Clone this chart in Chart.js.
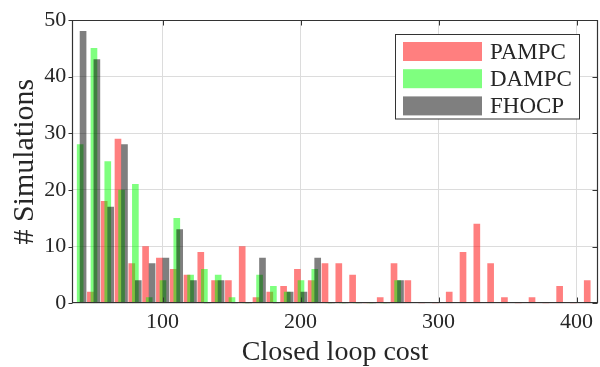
<!DOCTYPE html>
<html>
<head>
<meta charset="utf-8">
<script src="https://cdn.jsdelivr.net/npm/chart.js@4/dist/chart.umd.min.js"></script>
<style>
  html, body { margin: 0; padding: 0; background: #ffffff; }
  #wrap { width: 600px; height: 367px; }
</style>
</head>
<body>
<div id="wrap"><canvas id="c" width="600" height="367"></canvas></div>
<script>
// ---- Data ----
const seriesNames = ["PAMPC", "DAMPC", "FHOCP"];

const pampcBins = [47.7,57.7,67.7,77.7,87.7,97.7,107.7,117.7,127.7,137.7,147.7,157.7,167.7,177.7,187.7,197.7,207.7,217.7,227.7,237.7,247.7,257.7,267.7,277.7,287.7,297.7,307.7,317.7,327.7,337.7,347.7,357.7,367.7,377.7,387.7,397.7,407.7];
const pampcCounts = [2,18,29,7,10,8,6,5,9,4,4,10,1,2,3,6,4,7,7,5,0,1,7,4,0,0,2,9,14,7,1,0,1,0,3,0,4];

const dampcBins = [40.3,50.3,60.3,70.3,80.3,90.3,100.3,110.3,120.3,130.3,140.3,150.3,160.3,170.3,180.3,190.3,200.3,210.3,220.3,230.3,240.3,250.3,260.3,270.3];
const dampcCounts = [28,45,25,20,21,1,4,15,5,6,5,1,0,5,3,2,4,6,0,0,0,0,0,4];

const fhocpBins = [42.4,52.4,62.4,72.4,82.4,92.4,102.4,112.4,122.4,132.4,142.4,152.4,162.4,172.4,182.4,192.4,202.4,212.4,222.4,232.4,242.4,252.4,262.4,272.4];
const fhocpCounts = [48,43,17,28,4,7,8,13,4,0,4,0,0,8,0,2,2,8,0,0,0,0,0,4];

const xTickValues = [100, 200, 300, 400];
const yTickValues = [0, 10, 20, 30, 40, 50];
const xLimits = [34.6, 415.5];
const yLimits = [0, 50];

const xLabel = "Closed loop cost";
const yLabel = "# Simulations";

// ---- Styles ----
const colors = ["rgba(255,0,0,0.5)", "rgba(0,255,0,0.5)", "rgba(0,0,0,0.5)"];
const serif = "'Liberation Serif', 'Times New Roman', serif";
const axisColor = "#333333";

function pts(xs, ys) { return xs.map((x, i) => ({ x: x, y: ys[i] })); }

const boxPlugin = {
  id: 'matlabBox',
  afterDatasetsDraw(chart) {
    const { ctx, chartArea: a, scales } = chart;
    const L = Math.round(a.left) + 0.5, R = Math.round(a.right) - 0.5;
    const T = Math.round(a.top) + 0.5, B = Math.round(a.bottom) - 0.5;
    ctx.save();
    ctx.strokeStyle = axisColor;
    ctx.lineWidth = 1.2;
    ctx.beginPath();
    ctx.rect(L, T, R - L, B - T);
    ctx.stroke();
    ctx.lineWidth = 1;
    const tl = 5;
    ctx.beginPath();
    xTickValues.forEach(v => {
      const px = Math.round(scales.x.getPixelForValue(v)) + 0.5;
      ctx.moveTo(px, B); ctx.lineTo(px, B - tl);
      ctx.moveTo(px, T); ctx.lineTo(px, T + tl);
    });
    yTickValues.forEach(v => {
      const py = Math.round(scales.y.getPixelForValue(v)) + 0.5;
      ctx.moveTo(L, py); ctx.lineTo(L - 4, py);
      ctx.moveTo(R, py); ctx.lineTo(R - tl, py);
    });
    ctx.stroke();
    ctx.restore();
  },
  afterDraw(chart) {
    const { ctx } = chart;
    // Legend box (inside the axes, top right)
    const bx = 395.5, by = 34.5, bw = 184, bh = 84.5;
    ctx.save();
    ctx.fillStyle = '#ffffff';
    ctx.fillRect(bx, by, bw, bh);
    ctx.strokeStyle = axisColor;
    ctx.lineWidth = 1;
    ctx.strokeRect(bx, by, bw, bh);
    ctx.font = "23px " + serif;
    ctx.textBaseline = 'middle';
    ctx.textAlign = 'left';
    chart.data.datasets.forEach((ds, i) => {
      const cy = 51.5 + i * 27.2;
      ctx.fillStyle = ds.backgroundColor;
      ctx.fillRect(403, cy - 9.5, 79, 19);
      ctx.fillStyle = '#262626';
      ctx.fillText(ds.label, 490, cy + 1);
    });
    ctx.restore();
  }
};

new Chart(document.getElementById('c'), {
  type: 'bar',
  data: {
    datasets: [
      { label: seriesNames[0], data: pts(pampcBins, pampcCounts), backgroundColor: colors[0], order: 3 },
      { label: seriesNames[1], data: pts(dampcBins, dampcCounts), backgroundColor: colors[1], order: 2 },
      { label: seriesNames[2], data: pts(fhocpBins, fhocpCounts), backgroundColor: colors[2], order: 1 }
    ]
  },
  options: {
    responsive: false,
    animation: false,
    devicePixelRatio: 1,
    layout: { padding: { top: 20, right: 2, left: 0, bottom: 0 } },
    datasets: { bar: { grouped: false, barThickness: 6, borderWidth: 0 } },
    plugins: { legend: { display: false }, tooltip: { enabled: false } },
    scales: {
      x: {
        type: 'linear',
        offset: false,
        min: xLimits[0], max: xLimits[1],
        afterBuildTicks: s => { s.ticks = xTickValues.map(v => ({ value: v })); },
        afterFit: s => { s.height = 63.7; },
        grid: { color: '#dcdcdc', drawTicks: false, lineWidth: 1, offset: false },
        border: { display: false },
        ticks: { color: '#262626', padding: 6, maxRotation: 0, font: { family: serif, size: 22, lineHeight: 1.2 } },
        title: { display: true, text: xLabel, color: '#262626', padding: { top: 0, bottom: 0.5 }, font: { family: serif, size: 28, lineHeight: 1 } }
      },
      y: {
        min: yLimits[0], max: yLimits[1],
        afterBuildTicks: s => { s.ticks = yTickValues.map(v => ({ value: v })); },
        afterFit: s => { s.width = 72.3; },
        grid: { color: '#dcdcdc', drawTicks: false, lineWidth: 1 },
        border: { display: false },
        ticks: { color: '#262626', padding: 6, font: { family: serif, size: 22, lineHeight: 1.2 } },
        title: { display: true, text: yLabel, color: '#262626', padding: { top: 10, bottom: 0 }, font: { family: serif, size: 30, lineHeight: 1 } }
      }
    }
  },
  plugins: [boxPlugin]
});
</script>
</body>
</html>
